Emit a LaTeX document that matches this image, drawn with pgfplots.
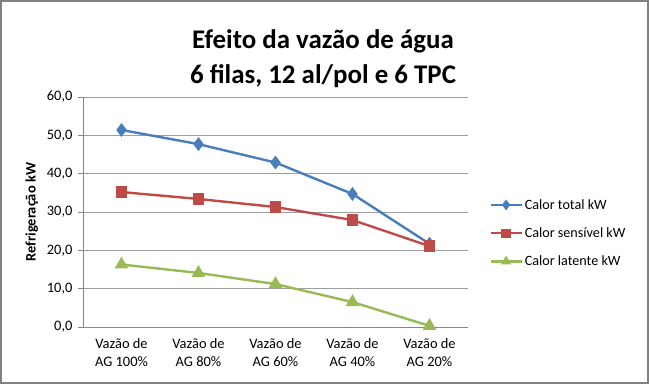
\documentclass[border=0pt]{standalone}
\usepackage{pgfplots}
\pgfplotsset{compat=1.18}
\usepackage{fontspec}
\setmainfont{Carlito}
\definecolor{cblue}{RGB}{74,126,187}
\definecolor{cred}{RGB}{190,75,72}
\definecolor{cgreen}{RGB}{152,185,84}
\definecolor{cgrid}{RGB}{134,134,134}
\definecolor{cframe}{RGB}{128,128,128}
\begin{document}
\begin{tikzpicture}[x=1bp,y=1bp]
\begin{axis}[
  at={(0,0)}, anchor=south west,
  scale only axis, width=385bp, height=230bp,
  xmin=-0.5, xmax=4.5, ymin=0, ymax=60,
  xtick={0,1,2,3,4},
  xticklabels={{Vazão de\\AG 100\%},{Vazão de\\AG 80\%},{Vazão de\\AG 60\%},{Vazão de\\AG 40\%},{Vazão de\\AG 20\%}},
  xticklabel style={align=center, font=\fontsize{14.5}{18}\selectfont, yshift=-3bp},
  ytick={0,10,...,60},
  yticklabel style={font=\fontsize{14.5}{17}\selectfont, xshift=-2bp},
  /pgf/number format/assume math mode=true,
  /pgf/number format/.cd, fixed, fixed zerofill, precision=1, use comma, /pgfplots/.cd,
  ymajorgrids, grid style={cgrid!80, line width=0.9bp},
  axis x line*=bottom, axis y line*=left,
  axis line style={cgrid, line width=0.9bp},
  x axis line style={-}, y axis line style={-},
  major tick length=5bp,
  xtick style={draw=none},
  ytick style={cgrid, line width=0.9bp},
  tick align=outside,
  ylabel={\textbf{Refrigeração kW}},
  ylabel style={font=\fontsize{14.5}{17}\selectfont, at={(axis description cs:-0.133,0.5)}, anchor=center},
  legend style={draw=none, at={(1.055,0.565)}, anchor=north west, font=\fontsize{14.2}{17}\selectfont, row sep=13bp, fill=none, legend cell align=left, inner sep=0pt},
  legend image code/.code={\draw[#1] (0bp,0bp) -- (31bp,0bp); \draw[#1, only marks, mark size=3.5bp] plot coordinates {(15.5bp,0bp)};},
  clip=false,
]
\addplot[cblue, line width=2.4bp, mark=diamond*, mark size=5bp, mark options={solid}] coordinates {(0,51.4) (1,47.7) (2,42.9) (3,34.7) (4,21.7)};
\addlegendentry{Calor total kW}
\addplot[cred, line width=2.4bp, mark=square*, mark size=4.5bp] coordinates {(0,35.2) (1,33.4) (2,31.3) (3,27.9) (4,21.1)};
\addlegendentry{Calor sensível kW}
\addplot[cgreen, line width=2.4bp, mark=triangle*, mark size=5.5bp] coordinates {(0,16.3) (1,14.1) (2,11.2) (3,6.5) (4,0.3)};
\addlegendentry{Calor latente kW}
\end{axis}
\draw[cframe, line width=2bp] (-82,-56) rectangle (565,326);
\node[font=\bfseries\fontsize{27}{35}\selectfont, align=center] at (240,268) {Efeito da vazão de água\\6 filas, 12 al/pol e 6 TPC};
\end{tikzpicture}
\end{document}
